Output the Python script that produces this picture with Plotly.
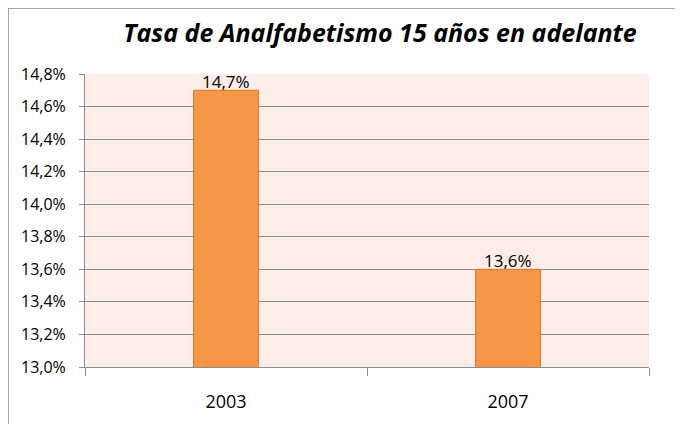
import plotly.graph_objects as go

years = ["2003", "2007"]
rates = [14.7, 13.6]
y_ticks = [13.0, 13.2, 13.4, 13.6, 13.8, 14.0, 14.2, 14.4, 14.6, 14.8]
y_tick_labels = ["13,0%", "13,2%", "13,4%", "13,6%", "13,8%", "14,0%", "14,2%", "14,4%", "14,6%", "14,8%"]
title_text = "Tasa de Analfabetismo 15 años en adelante"

FONT = "Open Sans, sans-serif"

fig = go.Figure(go.Bar(
    x=years, y=rates, width=0.23,
    marker=dict(color="#F79646", line=dict(color="#D9772F", width=1)),
    cliponaxis=False,
))

for i, r in enumerate(rates):
    fig.add_annotation(x=i, y=r, text=f"{r:.1f}%".replace(".", ","), showarrow=False,
                       yanchor="bottom", yshift=-5,
                       font=dict(family=FONT, size=17, color="#000"))

PH = 293
fig.update_layout(
    width=675, height=416,
    margin=dict(l=77, r=34, t=66, b=57),
    paper_bgcolor="white", plot_bgcolor="#FCEDE8",
    separators=",.",
    showlegend=False,
    title=dict(text="<b><i>" + title_text + "</i></b>", x=372 / 675, xanchor="center",
               y=1 - 25 / 416, yanchor="middle",
               font=dict(family=FONT, size=25, color="#000")),
    shapes=[dict(type="rect", xref="paper", yref="paper",
                 x0=-77 / 564, x1=700 / 564, y0=-100 / PH, y1=1 + 66 / PH,
                 line=dict(color="#8C8C8C", width=1.5), layer="below")],
)
fig.update_yaxes(range=[13.0, 14.8], tickvals=y_ticks, ticktext=y_tick_labels,
                 showgrid=True, gridcolor="#8C8C8C", gridwidth=1,
                 showline=True, linecolor="#8C8C8C", linewidth=1,
                 ticks="outside", ticklen=5, tickcolor="#8C8C8C",
                 ticklabelstandoff=10, automargin=False,
                 tickfont=dict(family=FONT, size=16, color="#000"), zeroline=False)
fig.update_xaxes(type="category", range=[-0.5, 1.5], showline=True, linecolor="#8C8C8C", linewidth=1,
                 ticks="outside", tickson="boundaries", ticklen=8, tickcolor="#8C8C8C",
                 ticklabelstandoff=18, automargin=False, tickangle=0,
                 tickfont=dict(family=FONT, size=18, color="#000"))

fig.write_html("out.html")
